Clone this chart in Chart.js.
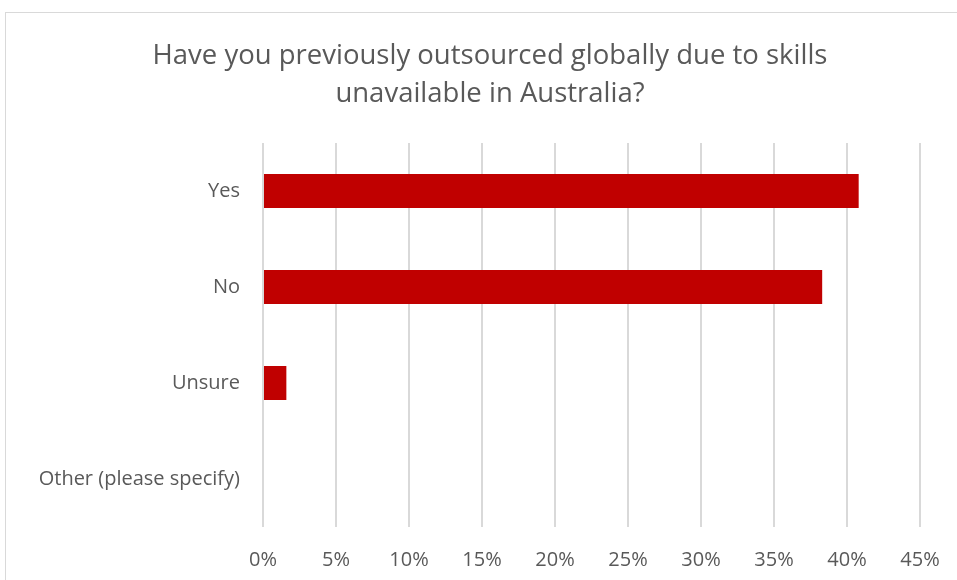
<!DOCTYPE html>
<html>
<head>
<meta charset="utf-8">
<title>Outsourcing survey</title>
<script src="https://cdn.jsdelivr.net/npm/chart.js@4.4.0/dist/chart.umd.min.js"></script>
<style>
  html, body { margin: 0; padding: 0; background: #fff; }
  #wrap { width: 957px; height: 580px; }
</style>
</head>
<body>
<div id="wrap"><canvas id="myChart" width="957" height="580"></canvas></div>
<script>
/* survey answers, share of respondents in % */
var categories = ['Yes', 'No', 'Unsure', 'Other (please specify)'];
var shares = [40.8, 38.3, 1.6, 0];
var titleLines = ['Have you previously outsourced globally due to skills', 'unavailable in Australia?'];
var xMax = 45;
var xStep = 5;

var textGrey = '#595959';
var fontFamily = '"Open Sans", sans-serif';

/* outer frame + two-line heading */
var framePlugin = {
    id: 'frame',
    beforeDraw: function(chart) {
        var c = chart.ctx;
        c.save();
        c.fillStyle = '#fff';
        c.fillRect(0, 0, chart.width, chart.height);
        c.strokeStyle = '#d9d9d9';
        c.lineWidth = 1;
        c.strokeRect(5.5, 12.5, chart.width + 20, chart.height + 20);
        c.restore();
    },
    afterDraw: function(chart) {
        var c = chart.ctx;
        c.save();
        c.fillStyle = textGrey;
        c.font = '27.5px ' + fontFamily;
        c.textAlign = 'center';
        c.textBaseline = 'middle';
        c.fillText(titleLines[0], 490, 56);
        c.fillText(titleLines[1], 490, 94);
        c.restore();
    }
};

var ctx = document.getElementById('myChart').getContext('2d');
var myChart = new Chart(ctx, {
    type: 'bar',
    data: {
        labels: categories,
        datasets: [{
            data: shares,
            backgroundColor: '#c00000',
            borderWidth: 0,
            categoryPercentage: 1,
            barPercentage: 0.354
        }]
    },
    options: {
        indexAxis: 'y',
        responsive: false,
        animation: false,
        layout: {
            padding: { left: 0, right: 37, top: 143, bottom: 0 }
        },
        plugins: {
            legend: { display: false },
            tooltip: { enabled: false }
        },
        scales: {
            x: {
                min: 0,
                max: xMax,
                ticks: {
                    stepSize: xStep,
                    color: textGrey,
                    font: { family: fontFamily, size: 20 },
                    padding: 21,
                    callback: function(v) { return v + '%'; }
                },
                grid: {
                    color: '#d9d9d9',
                    lineWidth: 2,
                    drawTicks: false
                },
                border: { display: false },
                afterFit: function(scale) {
                    scale.height = 53;
                    // let the layout padding alone decide the right edge
                    scale.paddingLeft = 0;
                    scale.paddingRight = 0;
                }
            },
            y: {
                ticks: {
                    color: textGrey,
                    font: { family: fontFamily, size: 20 },
                    padding: 15
                },
                grid: { display: false },
                border: { display: false },
                afterFit: function(scale) { scale.width = 263; }
            }
        }
    },
    plugins: [framePlugin]
});
</script>
</body>
</html>
